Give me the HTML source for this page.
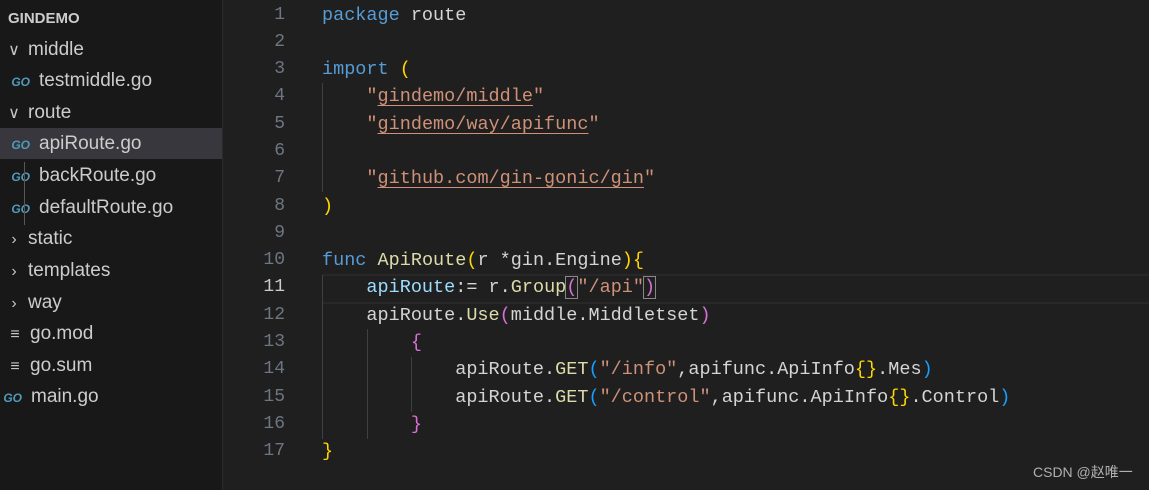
<!DOCTYPE html>
<html><head><meta charset="utf-8"><style>
body{margin:0;width:1149px;height:490px;overflow:hidden;background:#1f1f1f;position:relative;font-family:"Liberation Sans",sans-serif}
#side{position:absolute;left:0;top:0;width:222px;height:490px;background:#181818;border-right:1px solid #2b2b2b}
.r{position:absolute;left:0;width:222px;height:31px;line-height:31px;color:#cccccc;font-size:19px;white-space:nowrap}
.sel{background:#37373d}
.go{display:inline-block;color:#519aba;font-weight:bold;font-style:italic;font-size:12px;width:30px;text-align:right;margin-right:9px}
.chev{display:inline-block;width:28px;text-align:center;color:#c5c5c5;font-size:16px;font-weight:100}
.code{position:absolute;left:0;font-family:"Liberation Mono",monospace;font-size:18.5px;line-height:27.3px;white-space:pre;color:#d4d4d4}
.ln{position:absolute;left:230px;width:55px;text-align:right;font-family:"Liberation Mono",monospace;font-size:18px;line-height:27.3px;color:#6e7681}
.k{color:#569cd6}.s{color:#ce9178}.u{color:#ce9178;text-decoration:underline;text-underline-offset:4px}.f{color:#dcdcaa}.v{color:#9cdcfe}
.y{color:#ffd700}.p{color:#da70d6}.b{color:#179fff}
.g{position:absolute;width:1px;background:#404040}
</style></head><body>
<div id="side">
<div class="r" style="top:3px;font-weight:bold;font-size:15px;padding-left:8px;color:#cccccc">GINDEMO</div>
<div class="r" style="top:34px"><span class="chev">∨</span>middle</div>
<div class="r" style="top:65px"><span class="go">GO</span>testmiddle.go</div>
<div class="r" style="top:97px"><span class="chev">∨</span>route</div>
<div class="r sel" style="top:128px"><span class="go">GO</span>apiRoute.go</div>
<div class="r" style="top:160px"><span class="go">GO</span>backRoute.go</div>
<div class="r" style="top:192px"><span class="go">GO</span>defaultRoute.go</div>
<div class="r" style="top:223px"><span class="chev">›</span>static</div>
<div class="r" style="top:255px"><span class="chev">›</span>templates</div>
<div class="r" style="top:287px"><span class="chev">›</span>way</div>
<div class="r" style="top:318px"><span class="chev" style="width:30px">≡</span>go.mod</div>
<div class="r" style="top:350px"><span class="chev" style="width:30px">≡</span>go.sum</div>
<div class="r" style="top:381px"><span class="go" style="width:22px">GO</span>main.go</div>
<div style="position:absolute;left:24px;top:162px;width:1px;height:63px;background:#585858"></div>
</div>
<div style="position:absolute;left:322px;right:0;top:274px;height:26px;border-top:2px solid #282828;border-bottom:2px solid #282828"></div>
<div class="g" style="left:322px;top:83px;height:109px"></div>
<div class="g" style="left:322px;top:275px;height:164px"></div>
<div class="g" style="left:367px;top:329px;height:110px"></div>
<div class="g" style="left:411px;top:357px;height:55px"></div>
<div class="ln" style="top:1.5px">1<br>2<br>3<br>4<br>5<br>6<br>7<br>8<br>9<br>10<br><span style="color:#cccccc">11</span><br>12<br>13<br>14<br>15<br>16<br>17</div>
<div class="code" style="left:322px;top:1.5px"><span class="k">package</span> route

<span class="k">import</span> <span class="y">(</span>
    <span class="s">"</span><span class="u">gindemo/middle</span><span class="s">"</span>
    <span class="s">"</span><span class="u">gindemo/way/apifunc</span><span class="s">"</span>

    <span class="s">"</span><span class="u">github.com/gin-gonic/gin</span><span class="s">"</span>
<span class="y">)</span>

<span class="k">func</span> <span class="f">ApiRoute</span><span class="y">(</span>r *gin.Engine<span class="y">){</span>
    <span class="v">apiRoute</span>:= r.<span class="f">Group</span><span class="p" style="outline:1px solid #888">(</span><span class="s">"/api"</span><span class="p" style="outline:1px solid #888">)</span>
    apiRoute.<span class="f">Use</span><span class="p">(</span>middle.Middletset<span class="p">)</span>
        <span class="p">{</span>
            apiRoute.<span class="f">GET</span><span class="b">(</span><span class="s">"/info"</span>,apifunc.ApiInfo<span class="y">{}</span>.Mes<span class="b">)</span>
            apiRoute.<span class="f">GET</span><span class="b">(</span><span class="s">"/control"</span>,apifunc.ApiInfo<span class="y">{}</span>.Control<span class="b">)</span>
        <span class="p">}</span>
<span class="y">}</span></div>
<div style="position:absolute;left:1033px;top:462px;color:#b0b0b0;font-size:14px;font-family:'Liberation Sans','Noto Sans CJK SC',sans-serif">CSDN @赵唯一</div>
</body></html>
